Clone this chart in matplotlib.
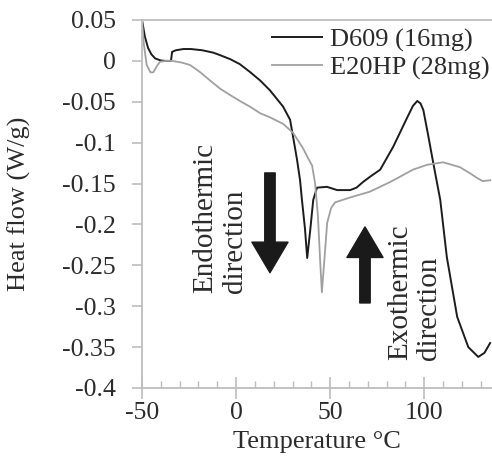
import matplotlib
matplotlib.use("Agg")
import matplotlib.pyplot as plt
from matplotlib.ticker import MultipleLocator, FixedLocator

# ---- data ----
d609_temp = [-50, -48.5, -46.8, -45, -43, -40, -37.8, -34.6, -34, -32, -28, -24, -18, -12,
             -8.5, -3, 2, 7.4, 12.8, 18, 25, 28.7, 30.3, 32.4, 34, 35, 36.6, 37.8, 39.4,
             41, 43, 48.3, 53.7, 60.6, 64, 67.5, 71, 76.6, 83.5, 91, 94, 96.3, 98, 99.5,
             102, 104.8, 108.5, 112, 117.5, 123.4, 128.7, 132, 135]
d609_flow = [0.05, 0.03, 0.016, 0.008, 0.003, 0.0005, 0.0, 0.0, 0.011, 0.013, 0.0145,
             0.0145, 0.013, 0.010, 0.007, 0.002, -0.004, -0.0136, -0.024, -0.036, -0.056,
             -0.072, -0.093, -0.121, -0.146, -0.17, -0.205, -0.241, -0.207, -0.17, -0.155,
             -0.154, -0.158, -0.158, -0.155, -0.148, -0.142, -0.133, -0.105, -0.069, -0.055,
             -0.049, -0.052, -0.06, -0.09, -0.125, -0.17, -0.24, -0.313, -0.35, -0.362,
             -0.357, -0.345]

e20hp_temp = [-50, -49, -47.5, -45.5, -44, -42, -40.4, -37, -34, -29, -24.5, -22, -19,
              -13.8, -8.5, -3, 2, 7.4, 12.8, 18, 25, 30.3, 35.6, 38.5, 40.4, 42, 43.5, 44.8,
              45.6, 46.7, 48.4, 50.5, 52.6, 60.6, 71, 82, 94, 101.6, 110, 119, 124, 128,
              131, 135]
e20hp_flow = [0.05, 0.02, -0.005, -0.014, -0.014, -0.006, -0.001, 0.0, 0.0, -0.002,
              -0.005, -0.009, -0.014, -0.024, -0.034, -0.042, -0.049, -0.056, -0.064,
              -0.069, -0.077, -0.088, -0.107, -0.12, -0.128, -0.15, -0.19, -0.25, -0.283,
              -0.25, -0.198, -0.18, -0.173, -0.167, -0.160, -0.148, -0.133, -0.127, -0.124,
              -0.13, -0.137, -0.143, -0.147, -0.146]

y_ticks = [0.05, 0, -0.05, -0.1, -0.15, -0.2, -0.25, -0.3, -0.35, -0.4]
y_tick_labels = ["0.05", "0", "-0.05", "-0.1", "-0.15", "-0.2", "-0.25", "-0.3", "-0.35", "-0.4"]
x_ticks = [-50, 0, 50, 100]
x_tick_labels = ["-50", "0", "50", "100"]
series_labels = ["D609 (16mg)", "E20HP (28mg)"]

# ---- style ----
plt.rcParams['font.family'] = ['Liberation Serif', 'DejaVu Serif']
text_col = '#2b2b2b'
spine_col = '#bdbdbd'

fig = plt.figure(figsize=(4.92, 4.57), dpi=100)
ax = fig.add_axes([142/492, 1-388/457, 1-142/492, (388-20)/457])

ax.plot(d609_temp, d609_flow, color='#1c1c1c', lw=1.4, label=series_labels[0])
ax.plot(e20hp_temp, e20hp_flow, color='#a0a0a0', lw=1.3, label=series_labels[1])

ax.set_xlim(-50, 136)
ax.set_ylim(-0.4, 0.05)

ax.yaxis.set_major_locator(FixedLocator(y_ticks))
ax.set_yticklabels(y_tick_labels)
ax.xaxis.set_major_locator(FixedLocator(x_ticks))
ax.set_xticklabels(x_tick_labels)
ax.xaxis.set_minor_locator(MultipleLocator(10))

ax.spines['right'].set_visible(False)
for s in ['left', 'bottom', 'top']:
    ax.spines[s].set_color(spine_col)
    ax.spines[s].set_linewidth(1.3)

ax.tick_params(axis='y', which='major', direction='out', length=7, width=1.2,
               color=spine_col, labelsize=18.5, labelcolor=text_col, pad=12)
ax.tick_params(axis='x', which='major', direction='inout', length=16, width=1.2,
               color=spine_col, labelsize=18.5, labelcolor=text_col, pad=2)
ax.tick_params(axis='x', which='minor', direction='in', length=5, width=1.0,
               color=spine_col)

ax.set_xlabel("Temperature °C", fontsize=19, color=text_col, labelpad=5)
ax.set_ylabel("Heat flow (W/g)", fontsize=19, color=text_col, labelpad=22)

leg = ax.legend(loc='upper left', bbox_to_anchor=(272/492, 1-28/457),
                bbox_transform=fig.transFigure, frameon=False, fontsize=19,
                handlelength=1.9, handletextpad=0.3, borderpad=0, borderaxespad=0,
                labelspacing=0.15)
for t in leg.get_texts():
    t.set_color(text_col)

# direction annotations
ax.text(-8.5, -0.2837, "Endothermic\ndirection", rotation=90, ha='center', va='bottom',
        multialignment='left', fontsize=21, color=text_col, linespacing=1.15)
ax.text(94.8, -0.3656, "Exothermic\ndirection", rotation=90, ha='center', va='bottom',
        multialignment='left', fontsize=21, color=text_col, linespacing=1.15)

arrow_style = 'simple,head_length=2.2,head_width=2.6,tail_width=0.75'
ax.annotate('', xy=(18, -0.259), xytext=(18, -0.137),
            arrowprops=dict(arrowstyle=arrow_style, color='#1a1a1a', shrinkA=0, shrinkB=0))
ax.annotate('', xy=(68.5, -0.203), xytext=(68.5, -0.296),
            arrowprops=dict(arrowstyle=arrow_style, color='#1a1a1a', shrinkA=0, shrinkB=0))

fig.savefig("out.png", dpi=100)
